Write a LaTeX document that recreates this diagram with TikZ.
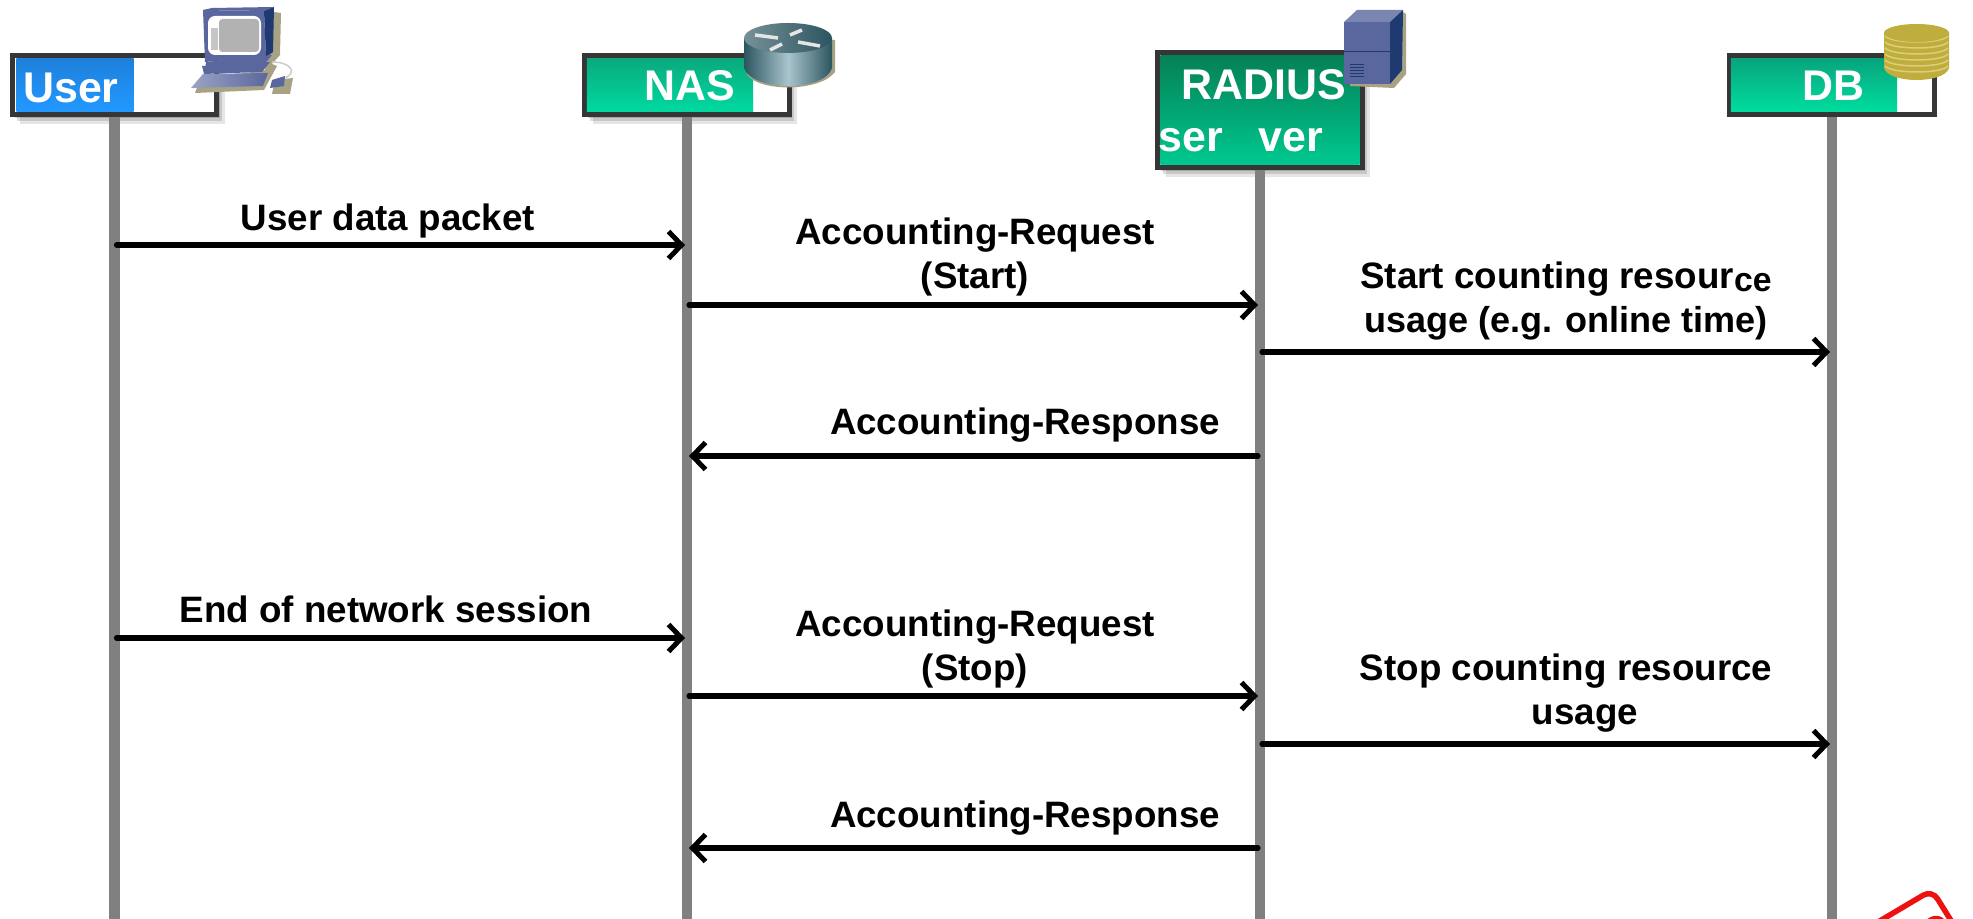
\documentclass[tikz,border=0pt]{standalone}
\usepackage{fontspec}
\setmainfont{Liberation Sans}
\usetikzlibrary{arrows.meta,shadows}
\definecolor{framegrey}{HTML}{363636}
\definecolor{lifegrey}{HTML}{808080}
\definecolor{iconshade}{HTML}{A8A285}
\definecolor{iconblue}{HTML}{5A669E}
\definecolor{icondark}{HTML}{1E3A70}
\definecolor{coingold}{HTML}{BFAE3E}
\definecolor{coinlight}{HTML}{DCCF78}
\definecolor{routerdark}{HTML}{2C5560}
\definecolor{routerlight}{HTML}{A9C4CC}
\definecolor{stampred}{HTML}{EE1111}
\begin{document}
\begin{tikzpicture}[x=0.01cm,y=-0.01cm]
\tikzset{signframe/.style={draw=framegrey, line width=0.05cm, fill=white, inner sep=0pt, minimum height=0.59cm, minimum width=2.04cm},
  signshadow/.style={drop shadow={shadow xshift=0.08cm, shadow yshift=-0.09cm, fill=black, opacity=0.1},
    drop shadow={shadow xshift=0.05cm, shadow yshift=-0.06cm, fill=black, opacity=0.13},
    drop shadow={shadow xshift=0.03cm, shadow yshift=-0.03cm, fill=black, opacity=0.16}},
  signfill/.style={inner sep=0pt, minimum height=0.52cm, shading angle=45},
  signtext/.style={text=white, inner sep=0pt, font=\fontsize{12.2}{14}\selectfont\bfseries},
  lifeline/.style={draw=lifegrey, line width=0.1cm},
  msg/.style={line width=0.052cm, shorten <=0.02cm, shorten >=0.02cm, -{Straight Barb[length=0.13cm, width=0.27cm, line width=0.05cm]}, line cap=round},
  msgtext/.style={inner sep=0pt, align=center, font=\fontsize{10.45}{12.5}\selectfont\bfseries}}
\clip (0,0) rectangle (1973,919);
\fill[white] (0,0) rectangle (1973,919);
% signs
\node[signframe, signshadow] (UserBox) at (114.5,85) {};
\node[signframe, signshadow] (NASBox) at (687,85) {};
\node[signframe, signshadow, minimum height=1.15cm] (RADIUSBox) at (1260,110) {};
\node[signframe] (DBBox) at (1832,85) {};
\node[signfill, minimum width=1.17cm, top color={rgb,255:red,30;green,128;blue,220}, bottom color={rgb,255:red,34;green,152;blue,255}] (UserFill) at (75,85) {};
\node[signfill, minimum width=1.66cm, top color={rgb,255:red,10;green,170;blue,125}, bottom color={rgb,255:red,0;green,217;blue,160}] (NASFill) at (670,85) {};
\node[signfill, minimum width=1.99cm, minimum height=1.09cm, top color={rgb,255:red,5;green,128;blue,85}, bottom color={rgb,255:red,0;green,200;blue,144}] (RADIUSFill) at (1260,110) {};
\node[signfill, minimum width=1.66cm, top color={rgb,255:red,8;green,165;blue,125}, bottom color={rgb,255:red,0;green,220;blue,158}] (DBFill) at (1814,85) {};
\node[signtext] (UserText) at (71,88) {User};
\node[signtext] (NASText) at (690,86) {NAS};
\node[signtext] (RADIUSText) at (1264,85) {RADIUS};
\node[signtext] (ServerText) at (1241,140) {ser\ \ \ ver};
\node[signtext] (DBText) at (1833,86) {DB};
% lifelines
\coordinate (UserEnd) at (114.5,919);
\coordinate (NASEnd) at (687,919);
\coordinate (RADIUSEnd) at (1260,919);
\coordinate (DBEnd) at (1832,919);
\draw[lifeline] (UserBox) -- (UserEnd);
\draw[lifeline] (NASBox) -- (NASEnd);
\draw[lifeline] (RADIUSBox) -- (RADIUSEnd);
\draw[lifeline] (DBBox) -- (DBEnd);
% message ends on the lifelines
\foreach \n/\x in {U/114.5,N/687,R/1260,D/1832}
  \foreach \m/\y in {a/245,b/305,c/352,d/456,e/638,f/696,g/744,h/848}
    \coordinate (\n\m) at (\x,\y);
\draw[msg] (Ua) -- (Na);
\draw[msg] (Nb) -- (Rb);
\draw[msg] (Rc) -- (Dc);
\draw[msg] (Rd) -- (Nd);
\draw[msg] (Ue) -- (Ne);
\draw[msg] (Nf) -- (Rf);
\draw[msg] (Rg) -- (Dg);
\draw[msg] (Rh) -- (Nh);
\node[msgtext] (DataLabel) at (388,221) {User data packet};
\node[msgtext] (StartReqLabel) at (975,257) {Accounting-Request\\(Start)};
\node[msgtext] (StartCountLabel) at (1566,301) {Start counting resour\raisebox{-0.03cm}{\fontsize{9.6}{11}\selectfont ce}\\{\fontsize{10.25}{12.5}\selectfont usage (e.g. online time)}};
\node[msgtext] (StartRespLabel) at (1025,425) {Accounting-Response};
\node[msgtext] (EndLabel) at (386,609) {End of network session};
\node[msgtext] (StopReqLabel) at (975,649) {Accounting-Request\\(Stop)};
\node[msgtext] (StopCountLabel) at (1566,693) {Stop counting resource\\\hspace*{0.38cm}usage};
\node[msgtext] (StopRespLabel) at (1025,818) {Accounting-Response};
% computer
\fill[iconshade] (274,12) -- (281,13) -- (280,55) -- (272,64) -- (277,66) -- (264,90) -- (195,93) -- (200,80) -- (265,70) -- cycle;
\fill[iconshade] (275,80) -- (293,78) -- (290,94) -- (272,94) -- cycle;
\fill[iconblue] (203,10) -- (212,8) -- (274,7) -- (264,11) -- cycle;
\fill[iconblue] (203,10) -- (264,11) -- (266,57) -- (205,62) -- cycle;
\fill[icondark] (264,11) -- (274,7) -- (273,52) -- (266,57) -- cycle;
\fill[white, rounded corners=2pt] (208,16) rectangle (261,55);
\fill[gray!60, rounded corners=1pt] (219,19) rectangle (259,52);
\fill[gray!45] (211,28) rectangle (218,50);
\fill[iconblue] (206,62) -- (272,55) -- (263,66) -- (205,70) -- cycle;
\fill[iconblue] (202,66) -- (270,62) -- (262,72) -- (204,74) -- cycle;
\shade[left color=iconblue!60, right color=iconblue] (203,74) -- (268,73) -- (263,86) -- (191,88) -- cycle;
\fill[iconblue] (272,80) -- (285,76) -- (284,86) -- (270,88) -- cycle;
\draw[gray!40, line width=0.015cm] (272,62) .. controls (290,62) and (298,72) .. (285,78);
% router
\fill[iconshade] (745,40) -- (835,40) -- (835,72) .. controls (820,92) and (760,92) .. (747,75) -- cycle;
\shade[left color=routerdark, right color=routerdark, middle color=routerlight] (744,38) -- (832,38) -- (832,68) .. controls (825,92) and (752,92) .. (744,68) -- cycle;
\shade[left color=routerdark!65, right color=routerdark] (788,38) ellipse [x radius=44, y radius=15];
\draw[white!80!gray, line width=0.035cm] (755,35) -- (778,38) (790,35) -- (802,30) (770,50) -- (782,44) (798,42) -- (820,46);
% server
\fill[iconshade] (1403,12) -- (1406,14) -- (1406,74) -- (1394,88) -- (1350,86) -- (1350,80) -- cycle;
\fill[iconblue!80!white] (1344,22) -- (1357,10) -- (1403,10) -- (1390,22) -- cycle;
\fill[iconblue] (1344,22) rectangle (1390,84);
\fill[icondark] (1390,22) -- (1403,10) -- (1402,70) -- (1390,84) -- cycle;
\draw[icondark, line width=0.01cm] (1344,52) -- (1390,52);
\foreach \y in {65,68,71,74,77}
  \draw[icondark, line width=0.01cm] (1350,\y) -- (1364,\y);
% coins
\fill[coingold] (1884,33) -- (1949,33) -- (1949,68) .. controls (1945,84) and (1888,84) .. (1884,68) -- cycle;
\foreach \y in {36,42,48,54,60,66}
  \draw[coinlight, line width=0.015cm] (1885,\y) .. controls (1892,\y+8) and (1942,\y+8) .. (1948,\y);
\fill[coingold] (1916.5,33) ellipse [x radius=32.5, y radius=9];
% stamp
\draw[stampred, line width=0.055cm, rounded corners=0.1cm, line cap=round] (1878,922) -- (1932,890) -- (1960,935);
\draw[stampred, line width=0.045cm, rounded corners=0.08cm] (1922,925) -- (1938,915) -- (1946,925);
\end{tikzpicture}
\end{document}
